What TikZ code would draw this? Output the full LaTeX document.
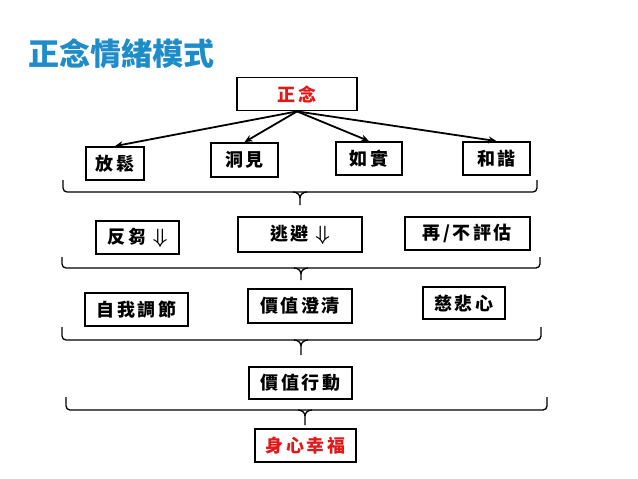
\documentclass[tikz,border=0pt]{standalone}
\usepackage{fontspec}
\usepackage{xcolor}
\usepackage{tikz}
\usetikzlibrary{arrows.meta, positioning}
\newfontfamily\cjk{Noto Sans CJK TC}
\newfontfamily\cjkwide{Noto Sans CJK TC}[LetterSpace=14]
\definecolor{titleblue}{RGB}{30,140,200}
\definecolor{mindred}{RGB}{226,24,24}
\newcommand\dn{{\fontsize{22}{22}\selectfont$\Downarrow$}}
\tikzset{
        box/.style={rectangle, draw, line width=1.8pt, inner sep=0pt, minimum height=33pt, font=\cjkwide\bfseries\boldmath\fontsize{18}{18}\selectfont},
        keybox/.style={box, text=mindred},
        arrow/.style={-{Stealth[length=8pt,width=7pt]}, line width=1.8pt},
        bracket/.style={line width=1.3pt, rounded corners=4pt},
    }
% left x, right x, middle x, top y, line y, tip y
\newcommand\rowbrace[6]{%
    \draw[bracket] (#1,#4) |- (#3,#5) -| (#2,#4);
    \draw[line width=1.3pt] (#3-7,#5) to[out=0,in=90] (#3,#5+6) -- (#3,#6);
    \draw[line width=1.3pt] (#3+7,#5) to[out=180,in=90] (#3,#5+6);
}
\begin{document}
\begin{tikzpicture}[x=1pt, y=-1pt]
        \useasboundingbox (0,0) rectangle (638,479);

        % TITLE
        \node[anchor=west, inner sep=0pt, text=titleblue, font=\cjk\bfseries\fontsize{31}{31}\selectfont] (title) at (28,54) {正念情緒模式};

        % MINDFULNESS
        \node[keybox, minimum width=120pt] (mind) at (297,94) {正念};

        % Row 1
        \node[box, minimum width=58pt] (relax) at (115,163.5) {放鬆};
        \node[box, minimum width=67pt, minimum height=34pt] (insight) at (244.5,160) {洞見};
        \node[box, minimum width=66pt] (asis) at (369,158.5) {如實};
        \node[box, minimum width=67pt] (harmony) at (496.5,158.5) {和諧};

        % Arrows
        \draw[arrow] (mind.south) -- (relax.north);
        \draw[arrow] (mind.south) -- (insight.north);
        \draw[arrow] (mind.south) -- (asis.north);
        \draw[arrow] (mind.south) -- (harmony.north);

        \rowbrace{63}{537}{300}{180}{192}{205}

        % Row 2
        \node[box, minimum width=83pt] (rumin) at (137.5,237.5) {反芻 \dn};
        \node[box, minimum width=124pt, minimum height=35pt] (avoid) at (300,234.5) {逃避 \dn};
        \node[box, minimum width=125pt] (reeval) at (467.5,233.5) {再/不評估};

        \rowbrace{62}{540}{301}{257}{268}{280}

        % Row 3
        \node[box, minimum width=103pt] (selfreg) at (136.5,309.5) {自我調節};
        \node[box, minimum width=104pt, minimum height=34pt] (valclar) at (300,306) {價值澄清};
        \node[box, minimum width=82pt, minimum height=32pt] (compass) at (464,303) {慈悲心};

        \rowbrace{62}{541}{301}{327}{340}{355}

        % Row 4
        \node[box, minimum width=103pt, minimum height=32pt] (valact) at (300.5,383) {價值行動};

        \rowbrace{66}{547}{305}{397}{410}{425}

        % WELL-BEING
        \node[keybox, minimum width=101pt] (wellbeing) at (305.5,445.5) {身心幸福};

    \end{tikzpicture}
\end{document}
